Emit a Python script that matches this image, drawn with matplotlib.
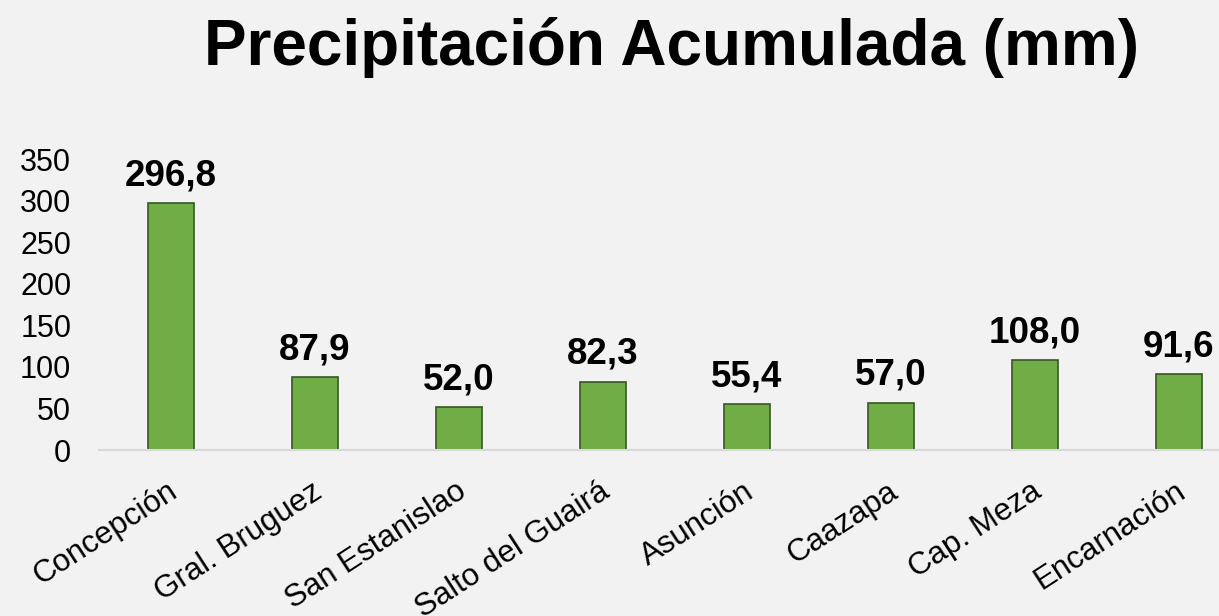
import matplotlib
matplotlib.use("Agg")
import matplotlib.pyplot as plt
import matplotlib.transforms as mtransforms

categories = ["Concepción", "Gral. Bruguez", "San Estanislao", "Salto del Guairá",
              "Asunción", "Caazapa", "Cap. Meza", "Encarnación"]
values = [296.8, 87.9, 52.0, 82.3, 55.4, 57.0, 108.0, 91.6]
yticks = [0, 50, 100, 150, 200, 250, 300, 350]
title = "Precipitación Acumulada (mm)"

plt.rcParams['font.family'] = ['Liberation Sans', 'DejaVu Sans']

W, H = 1219, 616
fig = plt.figure(figsize=(W / 100, H / 100), dpi=100, facecolor="#F2F2F2")
ax = fig.add_axes([99 / W, (H - 450) / H, 1152 / W, 291 / H])
ax.set_facecolor("#F2F2F2")

x = list(range(len(categories)))
bars = ax.bar(x, values, width=0.32, color="#70AD47", edgecolor="#375623", linewidth=1.2, zorder=3)

for xi, v in zip(x, values):
    ax.annotate(f"{v:.1f}".replace(".", ","), (xi, v), xytext=(0, 7), textcoords="offset points",
                ha="center", va="bottom", fontsize=26.5, fontweight="bold", color="black")

ax.set_xlim(-0.5, 7.5)
ax.set_ylim(0, 350)
ax.set_yticks(yticks)
ax.set_yticklabels([str(t) for t in yticks], fontsize=22)
ax.set_xticks(x)
ax.set_xticklabels(categories, fontsize=22.5, rotation=33, ha="right", rotation_mode="anchor")
ax.tick_params(axis="both", length=0)
ax.tick_params(axis="x", pad=19)
ax.tick_params(axis="y", pad=20)
shift = mtransforms.ScaledTranslation(-4 / 100, 0, fig.dpi_scale_trans)
for lbl in ax.get_xticklabels():
    lbl.set_transform(lbl.get_transform() + shift)

for s in ["top", "right", "left"]:
    ax.spines[s].set_visible(False)
ax.spines["bottom"].set_color("#D9D9D9")
ax.spines["bottom"].set_linewidth(1.5)
ax.spines["bottom"].set_zorder(4)

fig.text(671 / W, 1 - 65 / H, title, ha="center", va="baseline", fontsize=46, fontweight="bold")

fig.savefig("out.png", dpi=100, facecolor=fig.get_facecolor())
